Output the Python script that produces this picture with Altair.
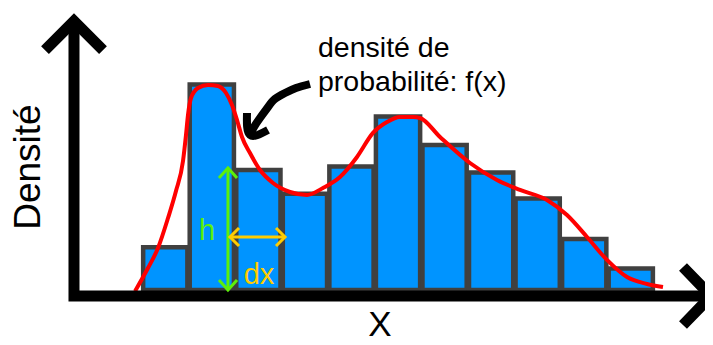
import altair as alt
import pandas as pd

# ---------------- data ----------------
bin_left = list(range(11))
density = [0.036, 0.173, 0.101, 0.081, 0.104, 0.146, 0.122, 0.099, 0.077, 0.043, 0.018]

curve_x = [-0.150, 0.129, 0.344, 0.559, 0.730, 0.881, 0.945, 0.988, 1.053, 1.203, 1.418,
           1.633, 1.805, 1.933, 2.041, 2.148, 2.320, 2.535, 2.814, 3.179, 3.545, 3.888,
           4.253, 4.619, 4.962, 5.263, 5.542, 5.822, 5.972, 6.402, 7.046, 7.626, 8.120,
           8.700, 9.130, 9.560, 9.989, 10.419, 10.849, 11.192]
curve_y = [-0.001, 0.0185, 0.0354, 0.0606, 0.0833, 0.1086, 0.1305, 0.1473, 0.1616, 0.1700, 0.1726,
           0.1717, 0.1658, 0.1557, 0.1431, 0.1288, 0.1153, 0.1010, 0.0901, 0.0825, 0.0800, 0.0859,
           0.0951, 0.1120, 0.1322, 0.1414, 0.1456, 0.1456, 0.1448, 0.1288, 0.1069, 0.0926, 0.0842,
           0.0758, 0.0631, 0.0446, 0.0253, 0.0109, 0.0051, 0.0025]

# decorative axes (data units)
axis_x = [-2.084, -1.461, -0.838, -1.461, -1.461, 12.224, 11.622, 12.224, 11.622]
axis_y = [0.2020, 0.2264, 0.2020, 0.2264, -0.00505, -0.00505, 0.01936, -0.00505, -0.02946]
axis_g = [0, 0, 0, 1, 1, 1, 2, 2, 2]

# curved annotation arrow
ann_x = [3.609, 3.308, 3.072, 2.857, 2.707, 2.535, 2.406, 2.320, 2.256, 2.320, 2.707]
ann_y = [0.1734, 0.1700, 0.1658, 0.1608, 0.1540, 0.1448, 0.1372, 0.1305, 0.1490, 0.1305, 0.1347]
ann_g = [0, 0, 0, 0, 0, 0, 0, 0, 1, 1, 1]

# h arrow (vertical) and dx arrow (horizontal)
h_x = [1.847, 1.847, 1.654, 1.847, 2.041, 1.654, 1.847, 2.041]
h_y = [0.1027, 0.0, 0.0943, 0.1027, 0.0943, 0.0084, 0.0, 0.0084]
h_g = [0, 0, 1, 1, 1, 2, 2, 2]

dx_x = [1.890, 3.072, 2.084, 1.890, 2.084, 2.879, 3.072, 2.879]
dx_y = [0.0446, 0.0446, 0.0522, 0.0446, 0.0370, 0.0522, 0.0446, 0.0370]
dx_g = [0, 0, 1, 1, 1, 2, 2, 2]

y_label = "Densité"
x_label = "X"
ann_lines = ["densité de", "probabilité: f(x)"]

# ---------------- scales ----------------
xs = alt.Scale(domain=[-2.8786, 12.0945], zero=False, nice=False)
ys = alt.Scale(domain=[-0.03956, 0.23737], zero=False, nice=False)
FONT = "Liberation Sans"


def X(f="x"):
    return alt.X(f"{f}:Q", scale=xs, axis=None)


def Y(f="y"):
    return alt.Y(f"{f}:Q", scale=ys, axis=None)


def poly(xv, yv, gv):
    return pd.DataFrame({"x": xv, "y": yv, "g": gv, "o": list(range(len(xv)))})


inset = 0.025
bars_df = pd.DataFrame({
    "x0": [b + inset for b in bin_left],
    "x1": [b + 1 - inset for b in bin_left],
    "d": density,
    "z": [0.0] * len(density),
})

bars = alt.Chart(bars_df).mark_rect(fill="#0094ff", stroke="#404040", strokeWidth=4.5).encode(
    x=X("x0"), x2="x1", y=Y("d"), y2="z"
)

curve = alt.Chart(pd.DataFrame({"x": curve_x, "y": curve_y})).mark_line(
    color="#ff0000", strokeWidth=4, interpolate="monotone"
).encode(x=X(), y=Y())

axes = alt.Chart(poly(axis_x, axis_y, axis_g)).mark_line(
    color="black", strokeWidth=11, strokeJoin="miter", strokeCap="butt"
).encode(x=X(), y=Y(), detail="g:N", order="o:Q")

ann = alt.Chart(poly(ann_x, ann_y, ann_g)).mark_line(
    color="black", strokeWidth=8, strokeJoin="miter", strokeCap="butt", interpolate="natural"
).encode(x=X(), y=Y(), detail="g:N", order="o:Q")

h_arrow = alt.Chart(poly(h_x, h_y, h_g)).mark_line(
    color="#5cf00a", strokeWidth=3, strokeJoin="miter", strokeCap="butt"
).encode(x=X(), y=Y(), detail="g:N", order="o:Q")

dx_arrow = alt.Chart(poly(dx_x, dx_y, dx_g)).mark_line(
    color="#ffcc00", strokeWidth=3, strokeJoin="miter", strokeCap="butt"
).encode(x=X(), y=Y(), detail="g:N", order="o:Q")

ylab = alt.Chart(pd.DataFrame({"x": [-2.428], "y": [0.1035], "t": [y_label]})).mark_text(
    font=FONT, fontSize=37, angle=270, align="center", baseline="middle", color="black"
).encode(x=X(), y=Y(), text="t:N")

xlab = alt.Chart(pd.DataFrame({"x": [5.113], "y": [-0.0295], "t": [x_label]})).mark_text(
    font=FONT, fontSize=35, align="center", baseline="middle", color="black"
).encode(x=X(), y=Y(), text="t:N")

ann_text = alt.Chart(pd.DataFrame({"x": [3.781, 3.781], "y": [0.1961, 0.1675], "t": ann_lines})).mark_text(
    font=FONT, fontSize=28.5, align="left", baseline="alphabetic", color="black"
).encode(x=X(), y=Y(), text="t:N")

h_text = alt.Chart(pd.DataFrame({"x": [1.396], "y": [0.0497], "t": ["h"]})).mark_text(
    font=FONT, fontSize=29, align="center", baseline="middle", color="#5cf00a"
).encode(x=X(), y=Y(), text="t:N")

dx_text = alt.Chart(pd.DataFrame({"x": [2.513], "y": [0.0124], "t": ["dx"]})).mark_text(
    font=FONT, fontSize=29, align="center", baseline="middle", color="#ffcc00"
).encode(x=X(), y=Y(), text="t:N")

chart = alt.layer(
    bars, curve, axes, ann, h_arrow, dx_arrow, ylab, xlab, ann_text, h_text, dx_text
).properties(
    width=697, height=329, padding=0, autosize=alt.AutoSizeParams(type="none"),
    background="white"
).configure_view(stroke=None)

chart.save("out.html", embed_options={"renderer": "svg", "actions": False})
